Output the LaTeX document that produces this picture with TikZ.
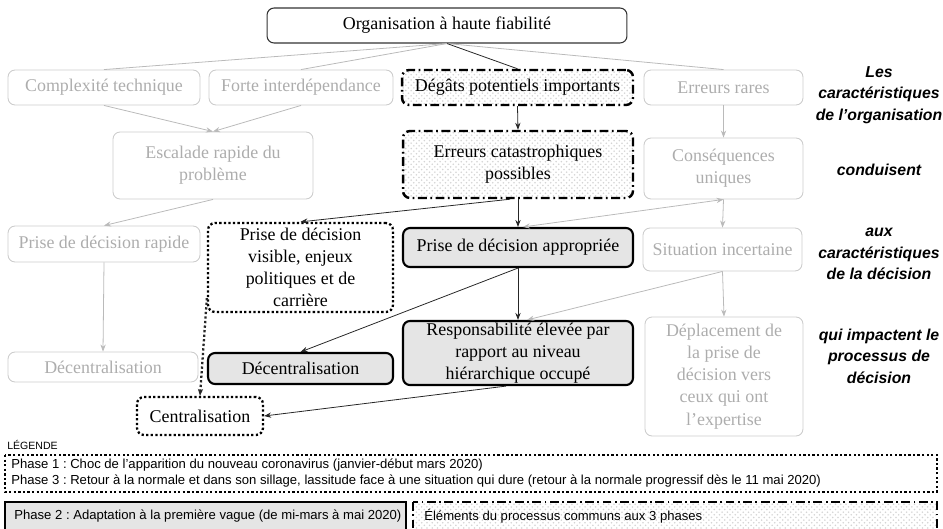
\documentclass[tikz,border=0pt]{standalone}
\usepackage{fontspec}
\setmainfont{Liberation Serif}
\setsansfont{Liberation Sans}
\usetikzlibrary{arrows.meta,patterns}
\frenchspacing

\colorlet{faded edge}{black!20}
\colorlet{faded line}{black!27}
\colorlet{faded text}{black!32}
\colorlet{phase area}{black!10}
\colorlet{dot area}{black!17}
\tikzset{
  box/.style={rounded corners=4pt, align=center, inner xsep=2pt, inner ysep=1pt,
    font=\fontsize{10.2}{12.6}\selectfont},
  fadedbox/.style={box, draw=faded edge, text=faded text, line width=0.5pt},
  topbox/.style={box, draw=black!80, line width=0.6pt},
  commonbox/.style={box, draw, line width=1.4pt,
    dash pattern=on 5pt off 2pt on 1pt off 2pt,
    pattern=crosshatch dots, pattern color=dot area},
  phasetwobox/.style={box, draw, line width=1.2pt, fill=phase area},
  phaseonethreebox/.style={box, draw, line width=1.3pt, dash pattern=on 1.3pt off 1.3pt},
  sidenote/.style={align=center, inner sep=0pt,
    font=\sffamily\bfseries\itshape\fontsize{9}{12.2}\selectfont},
  legendtext/.style={anchor=west, align=left, inner sep=0pt,
    font=\sffamily\fontsize{7.45}{9.1}\selectfont}
  }
\tikzstyle{edge} = [draw, black!85, line width=0.45pt, -{Stealth[length=4pt,width=3pt]}]
\tikzstyle{dark line} = [draw, black!85, line width=0.45pt, -]
\tikzstyle{grey edge} = [draw, faded line, line width=0.45pt, -{Stealth[length=4pt,width=3pt]}]
\tikzstyle{grey line} = [draw, faded line, line width=0.45pt, -]

\begin{document}
\begin{tikzpicture}[x=0.02cm, y=-0.02cm]
    \useasboundingbox (0,0) rectangle (943,528);
    \clip (0,0) rectangle (943,528);

    % Characteristics of the organisation
    \node[topbox, minimum width=7.2cm, minimum height=0.7cm] (org) at (447,25.5) {Organisation à haute fiabilité};
    \node[fadedbox, minimum width=3.84cm, minimum height=0.7cm] (cplx) at (104,87.5) {Complexité technique};
    \node[fadedbox, minimum width=3.68cm, minimum height=0.7cm] (forte) at (301,87.5) {Forte interdépendance};
    \node[commonbox, minimum width=4.62cm, minimum height=0.7cm] (degats) at (517.5,87.5) {Dégâts potentiels importants};
    \node[fadedbox, minimum width=3.18cm, minimum height=0.7cm] (rares) at (723.5,87.5) {Erreurs rares};

    \node[fadedbox, minimum width=4cm, minimum height=1.34cm] (escal) at (213,165.5) {Escalade rapide du\\problème};
    \node[commonbox, minimum width=4.6cm, minimum height=1.34cm] (catas) at (518,164.5) {Erreurs catastrophiques\\possibles};
    \node[fadedbox, minimum width=3.18cm, minimum height=1.22cm] (consq) at (723.5,168.5) {Conséquences\\uniques};

    % Characteristics of the decision
    \node[fadedbox, minimum width=3.84cm, minimum height=0.72cm] (rapide) at (104,244) {Prise de décision rapide};
    \node[phaseonethreebox, minimum width=3.7cm, minimum height=1.78cm] (visible) at (300.5,267.5) {Prise de décision\\visible, enjeux\\politiques et de\\carrière};
    \node[phasetwobox, minimum width=4.6cm, minimum height=0.78cm] (approp) at (518,247.5) {Prise de décision appropriée};
    \node[fadedbox, minimum width=3.18cm, minimum height=0.86cm] (situ) at (722.5,249.5) {Situation incertaine};

    % Decision process
    \node[fadedbox, minimum width=3.8cm, minimum height=0.6cm] (decg) at (103,367) {Décentralisation};
    \node[phasetwobox, minimum width=3.7cm, minimum height=0.62cm] (decb) at (300.5,368.5) {Décentralisation};
    \node[phasetwobox, minimum width=4.6cm, minimum height=1.24cm] (respo) at (518,353) {Responsabilité élevée par\\rapport au niveau\\hiérarchique occupé};
    \node[fadedbox, minimum width=3.16cm, minimum height=2.38cm] (depl) at (724,376.5) {Déplacement de\\la prise de\\décision vers\\ceux qui ont\\l’expertise};
    \node[phaseonethreebox, minimum width=2.52cm, minimum height=0.76cm] (centr) at (200,416) {Centralisation};

    % Notes on the right
    \node[sidenote] (orgnote) at (879,95) {Les\\caractéristiques\\de l’organisation};
    \node[sidenote] (leadnote) at (879,170) {conduisent};
    \node[sidenote] (decnote) at (879,254) {aux\\caractéristiques\\de la décision};
    \node[sidenote] (impnote) at (879,356) {qui impactent le\\processus de\\décision};

    % Connectors
    \foreach \to in {cplx, forte, rares} {
      \path[grey line] (org.south) -- (\to.north);
    }
    \path[dark line] (org.south) -- (degats.north);

    \foreach \from/\to in {cplx/escal, forte/escal, rares/consq, escal/rapide, consq/situ, rapide/decg, situ/depl} {
      \path[grey edge] (\from.south) -- (\to.north);
    }
    \path[grey edge, {Stealth[length=4pt,width=3pt]}-{Stealth[length=4pt,width=3pt]}] (consq.south) -- ([xshift=0.1cm]approp.north);
    \path[grey edge] (situ.south) -- ([xshift=0.18cm]respo.north);

    \foreach \from/\to in {degats/catas, catas/approp, approp/respo} {
      \path[edge] (\from.south) -- (\to.north);
    }
    \path[edge] ([xshift=-0.16cm]catas.south) -- (visible.north);
    \path[edge] (approp.south) -- (decb.north);
    \path[edge] ([xshift=-0.24cm]respo.south) -- (centr.east);
    \path[edge, line width=1.3pt, dash pattern=on 1.3pt off 1.3pt] ([yshift=0.3cm]visible.south west) -- (centr.north);

    % Legend
    \node[anchor=west, inner sep=0pt, font=\sffamily\fontsize{6}{7}\selectfont] (legend) at (7,445) {LÉGENDE};
    \draw[line width=1.3pt, dash pattern=on 1.3pt off 1.3pt] (5,455) rectangle (937,492);
    \node[legendtext] (phaseot) at (11,473.5) {Phase 1 : Choc de l’apparition du nouveau coronavirus (janvier-début mars 2020)\\Phase 3 : Retour à la normale et dans son sillage, lassitude face à une situation qui dure (retour à la normale progressif dès le 11 mai 2020)};
    \draw[line width=1.4pt, fill=phase area] (5,502) rectangle (406,534);
    \node[legendtext] (phasetwo) at (14,516) {Phase 2 : Adaptation à la première vague (de mi-mars à mai 2020)};
    \draw[line width=1.4pt, dash pattern=on 5pt off 2pt on 1pt off 2pt, pattern=crosshatch dots, pattern color=dot area] (413,502) rectangle (937,534);
    \node[legendtext] (common) at (424,516) {Éléments du processus communs aux 3 phases};
\end{tikzpicture}
\end{document}
